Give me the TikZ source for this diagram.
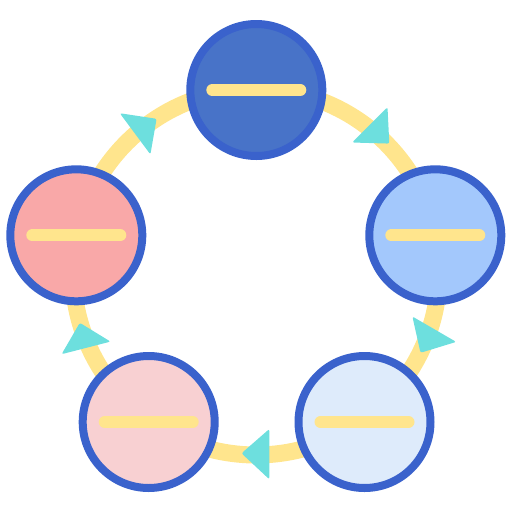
\documentclass[tikz,border=0pt]{standalone}
\definecolor{ringyellow}{HTML}{FFE58D}
\definecolor{edgeblue}{HTML}{3A62CC}
\definecolor{cyanarrow}{HTML}{6DDFDE}
\definecolor{fillA}{HTML}{4873C8}
\definecolor{fillB}{HTML}{A3C8FC}
\definecolor{fillC}{HTML}{DEEBFB}
\definecolor{fillD}{HTML}{F8D0D2}
\definecolor{fillE}{HTML}{F9A8A8}
\tikzset{
  circ/.style={circle, draw=edgeblue, line width=8pt, minimum size=132pt, inner sep=0pt},
  bar/.style={draw=ringyellow, line width=12pt, line cap=round},
  tri/.style={fill=cyanarrow, rounded corners=2pt},
}
\begin{document}
\begin{tikzpicture}[x=1pt,y=-1pt]
\useasboundingbox (0,0) rectangle (512,512);
% ring
\draw[ringyellow, line width=17pt] (256,272) circle (183pt);
% circles
\node[circ, fill=fillA] (top) at (256.3,90) {};
\node[circ, fill=fillB] (right) at (435.3,235.3) {};
\node[circ, fill=fillC] (bright) at (364.5,422) {};
\node[circ, fill=fillD] (bleft) at (148.7,422) {};
\node[circ, fill=fillE] (left) at (76.3,235.3) {};
% bars
\foreach \n in {top,right,bright,bleft,left}{
  \draw[bar] ([xshift=-44pt]\n.center) -- ([xshift=44pt]\n.center);
}
% arrowheads
\fill[tri] (119.8,113.2) -- (156.6,118.8) -- (150.4,154.4) -- cycle;
\fill[tri] (387.5,107.2) -- (352.2,142.5) -- (389.3,143.6) -- cycle;
\fill[tri] (412.4,316.5) -- (456.2,341.9) -- (420.5,352.8) -- cycle;
\fill[tri] (269.3,429) -- (241.5,453.3) -- (269.3,479.3) -- cycle;
\fill[tri] (79.8,322.8) -- (110.5,341.6) -- (61.6,354.2) -- cycle;
\end{tikzpicture}
\end{document}
